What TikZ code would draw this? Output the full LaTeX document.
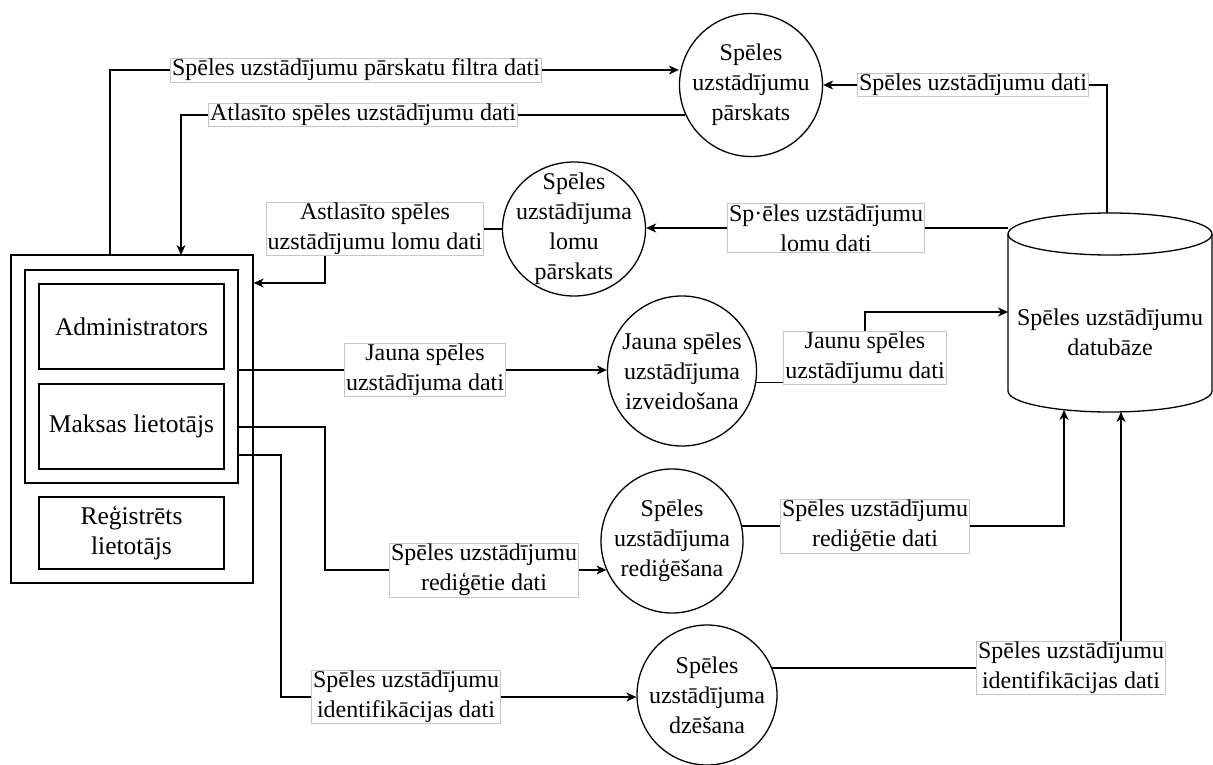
\documentclass[tikz,border=0pt]{standalone}
\usepackage{fontspec}
\setmainfont{Liberation Serif}
\usetikzlibrary{shapes.geometric,arrows.meta}

\begin{document}
\begin{tikzpicture}[x=1pt,y=1pt,line width=1.3pt,font=\fontsize{24}{30}\selectfont,
	box/.style={draw,minimum width=185,minimum height=85,align=center,inner sep=0pt,font=\fontsize{25.5}{30}\selectfont},
	proc/.style={draw,ellipse,inner sep=-16pt,align=center},
	lab/.style={draw=gray!45,line width=0.8pt,fill=white,inner xsep=1.5pt,inner ysep=1pt,align=center},
	flow/.style={-{Stealth[length=10pt,width=9pt,inset=3pt]}}]
	\useasboundingbox (0,0) rectangle (1213,-765);

	%actors
	\node[box,minimum width=242,minimum height=328] (outer) at (132,-419) {};
	\node[box,minimum width=213,minimum height=213] (inner) at (131.5,-376.5) {};
	\node[box] (admin) at (131.5,-326.5) {Administrators};
	\node[box] (maksas) at (131.5,-426.5) {Maksas lietotājs};
	\node[box,minimum height=72] (regis) at (131.5,-533) {Reģistrēts\\lietotājs};

	%processes
	\node[proc,minimum width=143,minimum height=143] (pars) at (751,-85) {Spēles\\uzstādījumu\\pārskats};
	\node[proc,minimum width=143,minimum height=134] (lomu) at (574,-229) {Spēles\\uzstādījuma\\lomu\\pārskats};
	\node[proc,minimum width=149,minimum height=150] (jauna) at (682,-371) {Jauna spēles\\uzstādījuma\\izveidošana};
	\node[proc,minimum width=142,minimum height=144] (redig) at (672,-541) {Spēles\\uzstādījuma\\rediģēšana};
	\node[proc,minimum width=140,minimum height=140] (dzes) at (707,-695) {Spēles\\uzstādījuma\\dzēšana};

	%database
	\draw (1008,-234) -- (1008,-391) arc[start angle=180,end angle=360,x radius=102,y radius=21] -- (1212,-234);
	\draw (1110,-234) ellipse [x radius=102,y radius=21];
	\node[align=center] (db) at (1110,-332) {Spēles uzstādījumu\\datubāze};
	\coordinate (dbtop) at (1107,-213);
	\coordinate (dbl) at (1008,-228);
	\coordinate (dbin) at (1008,-312);
	\coordinate (dbb1) at (1064,-410);
	\coordinate (dbb2) at (1121,-412);

	%labels
	\node[lab] (filtra) at (356,-70) {Spēles uzstādījumu pārskatu filtra dati};
	\node[lab] (atlas) at (363,-115) {Atlasīto spēles uzstādījumu dati};
	\node[lab] (datiDB) at (973,-85) {Spēles uzstādījumu dati};
	\node[lab] (lomuDB) at (826,-228) {Sp·ēles uzstādījumu\\lomu dati};
	\node[lab] (lomuAct) at (375,-229) {Astlasīto spēles\\uzstādījumu lomu dati};
	\node[lab] (jaunaIn) at (425,-370) {Jauna spēles\\uzstādījuma dati};
	\node[lab] (jaunaOut) at (865,-358) {Jaunu spēles\\uzstādījumu dati};
	\node[lab] (redigIn) at (484,-570) {Spēles uzstādījumu\\rediģētie dati};
	\node[lab] (redigOut) at (875,-526) {Spēles uzstādījumu\\rediģētie dati};
	\node[lab] (dzesIn) at (406,-697) {Spēles uzstādījumu\\identifikācijas dati};
	\node[lab] (dzesOut) at (1071,-668) {Spēles uzstādījumu\\identifikācijas dati};

	%elbows
	\coordinate (k1) at (110,-255);
	\coordinate (k2) at (181,-255);
	\coordinate (k5) at (325,-283);
	\coordinate (k8) at (325,-427);
	\coordinate (k9) at (281,-455);

	%flows
	\draw (k1) |- (filtra.west);
	\draw[flow] (filtra.east) -- (filtra.east -| pars.west);
	\draw (atlas.east -| pars.203) -- (atlas.east);
	\draw[flow] (atlas.west) -| (k2);
	\draw (dbtop) |- (datiDB.east);
	\draw[flow] (datiDB.west) -- (pars.east);
	\draw (dbl) -- (lomuDB.east);
	\draw[flow] (lomuDB.west) -- (lomuDB.west -| lomu.east);
	\draw (lomu.west) -- (lomuAct.east);
	\draw[flow] (lomuAct.south -| k5) -- (k5) -- (k5 -| outer.east);
	\draw (inner.east |- jaunaIn.west) -- (jaunaIn.west);
	\draw[flow] (jaunaIn.east) -- (jaunaIn.east -| jauna.west);
	\draw (jauna.-9) -- (jauna.-9 -| jaunaOut.west);
	\draw[flow] (jaunaOut.north) |- (dbin);
	\draw (inner.east |- k8) -- (k8) |- (redigIn.west);
	\draw[flow] (redigIn.east) -- (redigIn.east -| redig.204);
	\draw (redigOut.west -| redig.12) -- (redigOut.west);
	\draw[flow] (redigOut.east) -| (dbb1);
	\draw (inner.east |- k9) -- (k9) |- (dzesIn.west);
	\draw[flow] (dzesIn.east) -- (dzesIn.east -| dzes.west);
	\draw (dzesOut.west -| dzes.23) -- (dzesOut.west);
	\draw[flow] (dzesOut.north -| dbb2) -- (dbb2);
\end{tikzpicture}
\end{document}
